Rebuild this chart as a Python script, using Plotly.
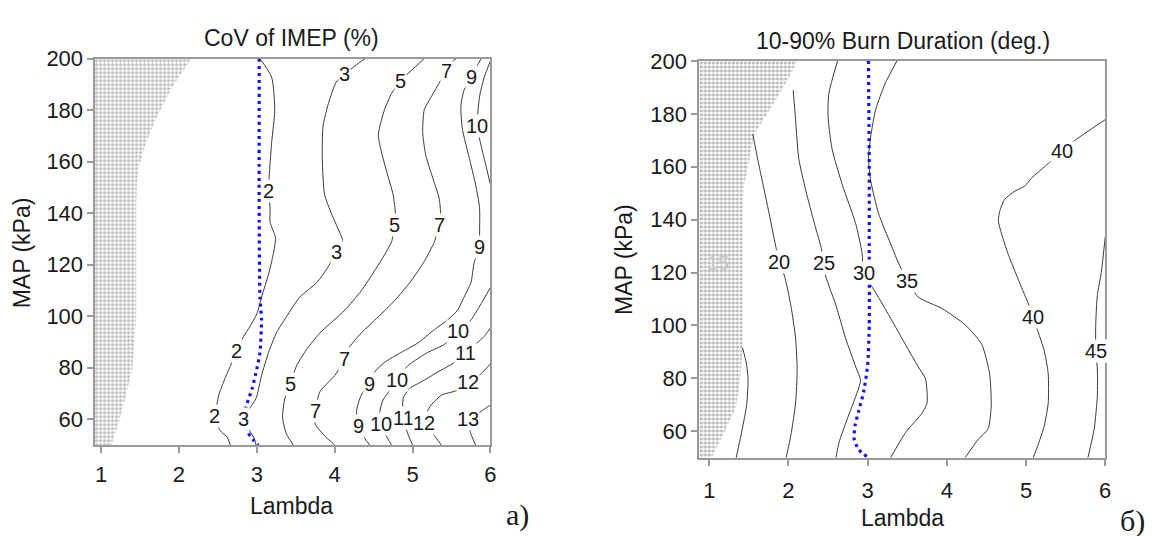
import plotly.graph_objects as go

# ================= Left panel: CoV of IMEP (%) =================
lam_2 = [3.04, 3.19, 3.23, 3.19, 3.16, 3.15, 3.17, 3.17, 3.24, 3.21, 3.15, 3.06, 3.00, 2.91, 2.83, 2.74, 2.68, 2.59, 2.51, 2.49, 2.45, 2.53, 2.62, 2.66]
map_2 = [200, 192.8, 180, 167.5, 155, 148.5, 142, 136.5, 130.5, 124, 116.3, 107.4, 101, 96, 92.2, 86.5, 82.1, 75.8, 69.4, 66.3, 61.3, 55.6, 53, 50]

lam_3 = [4.39, 4.26, 4.13, 4.02, 3.92, 3.85, 3.84, 3.87, 3.96, 4.07, 4.10, 4.02, 3.92, 3.77, 3.55, 3.38, 3.25, 3.15, 3.06, 2.99, 2.83, 2.96, 2.99]
map_3 = [200, 197.2, 194, 190.9, 182.7, 173.8, 161.2, 147.2, 139.7, 132.1, 129.6, 125.1, 119.4, 113.1, 107.4, 99.8, 93.5, 85.9, 77, 68.2, 60, 53, 50]

lam_5 = [5.15, 4.98, 4.85, 4.73, 4.64, 4.58, 4.56, 4.60, 4.68, 4.75, 4.78, 4.77, 4.73, 4.64, 4.51, 4.34, 4.13, 3.81, 3.64, 3.51, 3.43, 3.36, 3.33, 3.38, 3.47]
map_5 = [200, 195.3, 191.5, 186.5, 180.2, 173.8, 170, 163.7, 154.8, 147.2, 139.7, 135.3, 128.9, 123.9, 117.5, 109.9, 102.4, 93.5, 87.2, 80.8, 73.9, 68.2, 60.6, 54.3, 50]

lam_7 = [5.56, 5.47, 5.44, 5.36, 5.24, 5.15, 5.13, 5.17, 5.26, 5.34, 5.36, 5.34, 5.28, 5.15, 4.98, 4.77, 4.56, 4.34, 4.17, 4.13, 4.00, 3.81, 3.75, 3.75, 3.89, 4.00]
map_7 = [200, 197.9, 195.3, 191.5, 185.2, 180.2, 171.3, 162.4, 153.6, 146, 139.7, 135.3, 128.9, 121.3, 113.7, 106.1, 99.8, 93.5, 87.2, 83.4, 77, 70.7, 63.1, 58.1, 53, 50]

lam_9 = [5.88, 5.83, 5.76, 5.66, 5.62, 5.64, 5.73, 5.81, 5.86, 5.86, 5.86, 5.79, 5.75, 5.66, 5.58, 5.45, 5.28, 5.07, 4.85, 4.64, 4.51, 4.45, 4.34, 4.28, 4.31, 4.39, 4.45]
map_9 = [200, 197.2, 192.8, 187.7, 181.4, 172.6, 161.2, 151, 142.2, 130.8, 127, 120.7, 113.1, 107.4, 102.4, 98.6, 94.8, 89.7, 85.9, 82.1, 78.3, 73.9, 69.4, 63.1, 57.5, 52.4, 50]

lam_10a = [6.0, 5.92, 5.86, 5.83, 5.88, 5.94, 6.0]
map_10a = [199, 192.8, 185.2, 173.8, 166.2, 158.7, 151]

lam_10b = [6.0, 5.88, 5.75, 5.58, 5.41, 5.19, 4.94, 4.80, 4.71, 4.62, 4.58, 4.60, 4.66, 4.73]
map_10b = [111.2, 104.9, 98.6, 94.1, 89.1, 85.9, 80.8, 75.1, 71.3, 67.5, 63.1, 58.1, 53.7, 50]

lam_11 = [6.0, 5.92, 5.83, 5.68, 5.54, 5.32, 5.11, 4.96, 4.88, 4.88, 4.94, 5.0]
map_11 = [95.4, 92.2, 89.7, 85.9, 82.1, 78.3, 74.5, 72, 68.2, 60.6, 54.3, 50]

lam_12 = [6.0, 5.90, 5.83, 5.71, 5.58, 5.37, 5.24, 5.19, 5.15, 5.28, 5.37]
map_12 = [81.5, 78.3, 76.4, 74.5, 71.3, 69.4, 65.6, 63.1, 58.7, 53.7, 50]

lam_13 = [6.0, 5.88, 5.81, 5.71, 5.75, 5.81]
map_13 = [65.6, 63.1, 61.7, 60, 54.3, 50]

blue_lam_a = [3.03, 3.03, 3.04, 3.06, 3.04, 3.00, 2.94, 2.87, 2.83, 2.87, 2.96, 3.02]
blue_map_a = [200, 136.5, 107.4, 98.6, 85.9, 79.6, 72, 65.7, 60.6, 55.6, 51.8, 50]

hatch_lam_a = [2.16, 1.91, 1.70, 1.58, 1.49, 1.46, 1.45, 1.45, 1.45, 1.40, 1.33, 1.23, 1.13]
hatch_map_a = [200, 188.9, 176.4, 167.6, 158.5, 152.4, 142.2, 119.4, 99.7, 79.2, 71.2, 59.1, 50]

labels_a_text = ["2", "2", "2", "3", "3", "3", "5", "5", "5", "7", "7", "7", "7",
                 "9", "9", "9", "9", "10", "10", "10", "10", "11", "11", "12", "12", "13"]
labels_a_lam = [3.15, 2.74, 2.45, 4.13, 4.02, 2.83, 4.85, 4.77, 3.43, 5.44, 5.34, 4.13, 3.75,
                5.76, 5.86, 4.45, 4.31, 5.83, 5.58, 4.80, 4.60, 5.68, 4.88, 5.71, 5.15, 5.71]
labels_a_map = [148.5, 86.5, 61.3, 194, 125.1, 60, 191.5, 135.3, 73.9, 195.3, 135.3, 83.4, 63.1,
                192.8, 127, 73.9, 57.5, 173.8, 94.1, 75.1, 58.1, 85.9, 60.6, 74.5, 58.7, 60]

# ================= Right panel: 10-90% Burn Duration (deg.) =================
lam_15 = [1.42, 1.47, 1.49, 1.47, 1.40, 1.34]
map_15 = [91.6, 85.5, 79.3, 69.5, 58.4, 50]

lam_20 = [1.55, 1.61, 1.74, 1.84, 1.88, 1.95, 2.03, 2.09, 2.11, 2.09, 2.03, 1.97]
map_20 = [172.3, 163.1, 144.6, 129.8, 123.9, 118.7, 107.6, 95.3, 83, 70.7, 58.4, 50]

lam_25 = [2.06, 2.09, 2.13, 2.22, 2.33, 2.41, 2.45, 2.47, 2.60, 2.72, 2.85, 2.91, 2.85, 2.74, 2.64, 2.60]
map_25 = [188.9, 177.8, 163.1, 150.9, 138.3, 129.8, 123.6, 118.7, 107.6, 95.3, 84.3, 79.3, 73.2, 64.5, 55.9, 50]

lam_30 = [2.62, 2.51, 2.50, 2.55, 2.68, 2.85, 2.93, 2.95, 3.06, 3.22, 3.43, 3.64, 3.73, 3.75, 3.69, 3.48, 3.29]
map_30 = [200, 187.7, 179.1, 166.8, 153.2, 138.4, 127.3, 119.9, 114.4, 106.4, 95.3, 84.3, 79.9, 70.7, 67, 59.6, 50]

lam_35 = [3.37, 3.22, 3.10, 3.04, 3.01, 3.04, 3.14, 3.27, 3.39, 3.50, 3.64, 3.94, 4.23, 4.44, 4.54, 4.56, 4.52, 4.40, 4.23]
map_35 = [200, 191.4, 181.5, 171.7, 163.1, 154.5, 142.1, 132.3, 123.6, 116.9, 110.7, 106.4, 100.3, 92.9, 81.8, 69.5, 60.8, 57.1, 50]

lam_40 = [6.0, 5.61, 5.46, 5.28, 5.07, 4.98, 4.86, 4.73, 4.67, 4.65, 4.69, 4.77, 4.90, 5.02, 5.09, 5.15, 5.23, 5.28, 5.28, 5.23, 5.15, 5.09]
map_40 = [177.8, 169.8, 165.8, 161.2, 155.7, 152.6, 150.8, 147.7, 143.4, 139.7, 134.7, 127.3, 117.5, 108.9, 103.3, 97.8, 90.4, 81.8, 70.7, 62.1, 54.7, 50]

lam_45 = [6.0, 5.95, 5.90, 5.88, 5.88, 5.90, 5.90, 5.86, 5.78]
map_45 = [133.5, 120, 111.3, 100.3, 90.3, 83.6, 73.2, 60.8, 50]

blue_lam_b = [3.01, 3.02, 3.02, 3.02, 3.00, 2.95, 2.89, 2.84, 2.83, 2.89, 3.00]
blue_map_b = [200, 160, 126, 100, 85, 75, 68, 62, 57, 53, 50.2]

hatch_lam_b = [2.11, 2.01, 1.84, 1.63, 1.57, 1.51, 1.44, 1.42, 1.42, 1.39, 1.34, 1.21, 1.09, 1.03]
hatch_map_b = [200, 193.8, 185.2, 175.4, 172.3, 163.1, 153.2, 144.6, 91.6, 79.3, 69.5, 60.8, 53.5, 50]

labels_b_text = ["20", "25", "30", "35", "40", "40", "45"]
labels_b_lam = [1.88, 2.45, 2.95, 3.50, 5.46, 5.09, 5.88]
labels_b_map = [123.9, 123.6, 119.9, 116.9, 165.8, 103.3, 90.3]

faded_label_text = "15"
faded_label_lam = 1.11
faded_label_map = 123.6

x_ticks = [1, 2, 3, 4, 5, 6]
y_ticks = [60, 80, 100, 120, 140, 160, 180, 200]

# ---------------- figure ----------------
W, H = 1157, 536
FONT = "Liberation Sans, Arial, sans-serif"
LINE_C = "#3a3a3a"
FRAME_C = "#9a9a9a"

fig = go.Figure()

def add_hatch(lam, mp, xa, ya):
    fig.add_trace(go.Scatter(
        x=lam, y=mp, xaxis=xa, yaxis=ya, mode="lines",
        line=dict(width=0, color="rgba(0,0,0,0)"),
        fill="tozerox",
        fillpattern=dict(shape=".", fgcolor="#6e6e6e", bgcolor="white", size=4, solidity=0.5),
        hoverinfo="skip", showlegend=False))

def add_line(lam, mp, xa, ya):
    fig.add_trace(go.Scatter(
        x=lam, y=mp, xaxis=xa, yaxis=ya, mode="lines",
        line=dict(width=1, color=LINE_C, shape="spline", smoothing=0.6),
        hoverinfo="skip", showlegend=False))

def add_blue(lam, mp, xa, ya):
    fig.add_trace(go.Scatter(
        x=lam, y=mp, xaxis=xa, yaxis=ya, mode="lines",
        line=dict(width=3.2, color="#1010ff", dash="3px,4px", shape="spline", smoothing=0.6),
        hoverinfo="skip", showlegend=False))

add_hatch(hatch_lam_a, hatch_map_a, "x", "y")
for la, ma in [(lam_2, map_2), (lam_3, map_3), (lam_5, map_5), (lam_7, map_7), (lam_9, map_9),
               (lam_10a, map_10a), (lam_10b, map_10b), (lam_11, map_11), (lam_12, map_12), (lam_13, map_13)]:
    add_line(la, ma, "x", "y")
add_blue(blue_lam_a, blue_map_a, "x", "y")

add_hatch(hatch_lam_b, hatch_map_b, "x2", "y2")
for la, ma in [(lam_15, map_15), (lam_20, map_20), (lam_25, map_25), (lam_30, map_30),
               (lam_35, map_35), (lam_40, map_40), (lam_45, map_45)]:
    add_line(la, ma, "x2", "y2")
add_blue(blue_lam_b, blue_map_b, "x2", "y2")

annotations = []
for t, la, ma in zip(labels_a_text, labels_a_lam, labels_a_map):
    annotations.append(dict(x=la, y=ma, xref="x", yref="y", text=t, showarrow=False,
                            font=dict(family=FONT, size=20, color="#1a1a1a"),
                            bgcolor="white", borderpad=0))
for t, la, ma in zip(labels_b_text, labels_b_lam, labels_b_map):
    annotations.append(dict(x=la, y=ma, xref="x2", yref="y2", text=t, showarrow=False,
                            font=dict(family=FONT, size=20, color="#1a1a1a"),
                            bgcolor="white", borderpad=0))
annotations.append(dict(x=faded_label_lam, y=faded_label_map, xref="x2", yref="y2",
                        text=faded_label_text, showarrow=False,
                        font=dict(family=FONT, size=20, color="#c8c8c8")))

def txt(x, y, s, size=23, angle=0, family=FONT, color="#1a1a1a"):
    annotations.append(dict(x=x / W, y=1 - y / H, xref="paper", yref="paper", text=s,
                            showarrow=False, textangle=angle,
                            font=dict(family=family, size=size, color=color),
                            xanchor="center", yanchor="middle"))

txt(293, 27, "CoV of IMEP (%)")
txt(908, 30, "10-90% Burn Duration (deg.)")
txt(293, 505, "Lambda")
txt(907, 518, "Lambda")
txt(23, 246, "MAP (kPa)", angle=-90)
txt(628, 253, "MAP (kPa)", angle=-90)
txt(520, 515, "a)", size=30, family="Liberation Serif, Times New Roman, serif")
txt(1138, 521, "б)", size=30, family="Liberation Serif, Times New Roman, serif")

axis_common = dict(showline=True, mirror=True, linecolor=FRAME_C, linewidth=2,
                   ticks="outside", ticklen=6, tickwidth=1.5, tickcolor=FRAME_C,
                   showgrid=False, zeroline=False,
                   tickfont=dict(family=FONT, size=22, color="#1a1a1a"))

fig.update_layout(
    width=W, height=H, autosize=False,
    margin=dict(l=0, r=0, t=0, b=0),
    paper_bgcolor="white", plot_bgcolor="white",
    showlegend=False,
    annotations=annotations,
    xaxis=dict(domain=[95 / W, 493 / W], range=[0.915, 6], tickvals=x_ticks,
               anchor="y", ticklabelstandoff=3, **axis_common),
    yaxis=dict(domain=[1 - 443 / H, 1 - 47.7 / H], range=[50, 200], tickvals=y_ticks,
               anchor="x", ticklabelstandoff=-1, **axis_common),
    xaxis2=dict(domain=[703 / W, 1111 / W], range=[0.875, 6], tickvals=x_ticks,
                anchor="y2", ticklabelstandoff=6, **axis_common),
    yaxis2=dict(domain=[1 - 456 / H, 1 - 50 / H], range=[50, 200], tickvals=y_ticks,
                anchor="x2", ticklabelstandoff=0, **axis_common),
)

fig.write_html("out.html")
